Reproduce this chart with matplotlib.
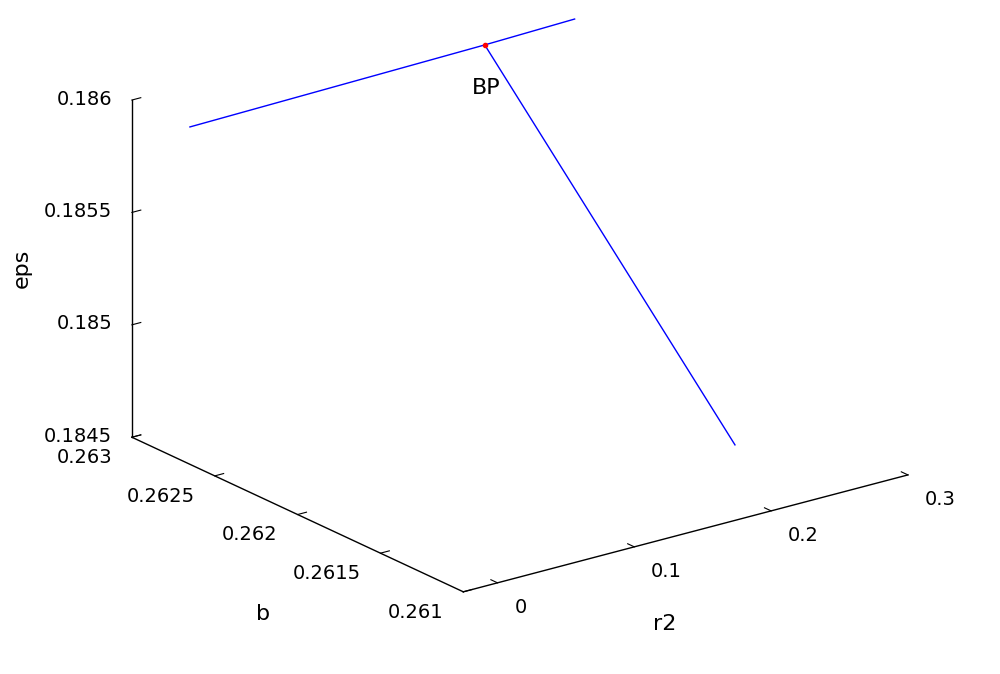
import numpy as np
import matplotlib
matplotlib.use("Agg")
import matplotlib.pyplot as plt
import matplotlib.transforms as mtransforms

# continuation branches: (r2, b, eps)
r2_br1 = [-0.0068, 0.2087, 0.2744]
b_br1 = [0.2628, 0.2628, 0.2628]
eps_br1 = [0.18592, 0.18594, 0.18595]

r2_br2 = [0.2087, 0.2087]
b_br2 = [0.2628, 0.26129]
eps_br2 = [0.18594, 0.18468]

bp_r2, bp_b, bp_eps = 0.2087, 0.2628, 0.18594

r2_ticks = [0, 0.1, 0.2, 0.3]
r2_labels = ['0', '0.1', '0.2', '0.3']
b_ticks = [0.261, 0.2615, 0.262, 0.2625, 0.263]
b_labels = ['0.261', '0.2615', '0.262', '0.2625', '0.263']
eps_ticks = [0.1845, 0.185, 0.1855, 0.186]
eps_labels = ['0.1845', '0.185', '0.1855', '0.186']

r2_lim = (-0.025, 0.3)
b_lim = (0.261, 0.263)
eps_lim = (0.1845, 0.186)

plt.rcParams['font.family'] = ['DejaVu Sans']

W, H = 1000, 674
fig = plt.figure(figsize=(W / 100, H / 100), dpi=100)
ax = fig.add_subplot(projection='3d', proj_type='ortho')

ax.plot(r2_br1, b_br1, eps_br1, color='blue', lw=1)
ax.plot(r2_br2, b_br2, eps_br2, color='blue', lw=1)
ax.plot([bp_r2], [bp_b], [bp_eps], 'o', color='red', ms=3)
bp_txt = ax.text(bp_r2, bp_b, bp_eps, 'BP', fontsize=16, ha='left', va='center')
bp_txt.set_transform(mtransforms.offset_copy(ax.transData, fig=fig,
                                             x=-13, y=-43, units='dots'))

ax.set_xlim(r2_lim, view_margin=0)
ax.set_ylim(b_lim, view_margin=0)
ax.set_zlim(eps_lim, view_margin=0)
ax.set_xticks(r2_ticks, r2_labels, ha='left', va='center')
ax.set_yticks(b_ticks, b_labels, ha='right', va='center')
ax.set_zticks(eps_ticks, eps_labels, ha='right', va='center')
ax.tick_params(axis='x', labelsize=14, pad=8)
ax.tick_params(axis='y', labelsize=14, pad=6)
ax.tick_params(axis='z', labelsize=14, pad=0)

# axis titles sit where the reference has them
fig.text(22 / W, 1 - 268 / H, 'eps', fontsize=16, rotation=90,
         ha='center', va='center')
fig.text(263 / W, 1 - 614 / H, 'b', fontsize=16, ha='center', va='center')
fig.text(665 / W, 1 - 624 / H, 'r2', fontsize=16, ha='center', va='center')

ax.view_init(elev=20.5, azim=-126.9)
ax.set_box_aspect((556, 552, 360))
ax.grid(False)
ax.title.set_visible(False)
for axis in (ax.xaxis, ax.yaxis, ax.zaxis):
    axis.set_pane_color((1, 1, 1, 0))
    axis.line.set_color('black')
    axis.line.set_linewidth(1)
    axis.offsetText.set_visible(False)
    axis.label.set_visible(False)
    axis._axinfo['tick']['inward_factor'] = 0
    axis._axinfo['tick']['outward_factor'] = 0.25

# place the box so that its corners land where the reference has them
cx = np.array([r2_lim[0], r2_lim[1], r2_lim[0], r2_lim[0]])
cy = np.array([b_lim[1], b_lim[0], b_lim[0], b_lim[1]])
cz = np.array([eps_lim[0], eps_lim[0], eps_lim[0], eps_lim[1]])
target = np.array([[132, H - 437], [908, H - 475], [463, H - 592], [132, H - 100]], float)

for _ in range(2):
    fig.canvas.draw()
    M = ax.get_proj()
    v = M @ np.vstack([cx, cy, cz, np.ones_like(cx)])
    pts = ax.transData.transform(np.column_stack([v[0] / v[3], v[1] / v[3]]))
    rows, rhs = [], []
    for (dx, dy), (tx, ty) in zip(pts, target):
        rows.append([dx, 1, 0]); rhs.append(tx)
        rows.append([dy, 0, 1]); rhs.append(ty)
    s, ox, oy = np.linalg.lstsq(np.array(rows), np.array(rhs), rcond=None)[0]
    x0, y0, w, h = ax.bbox.bounds
    ax.set_position([(s * x0 + ox) / W, (s * y0 + oy) / H, s * w / W, s * h / H])

fig.savefig('out.png', dpi=100)
